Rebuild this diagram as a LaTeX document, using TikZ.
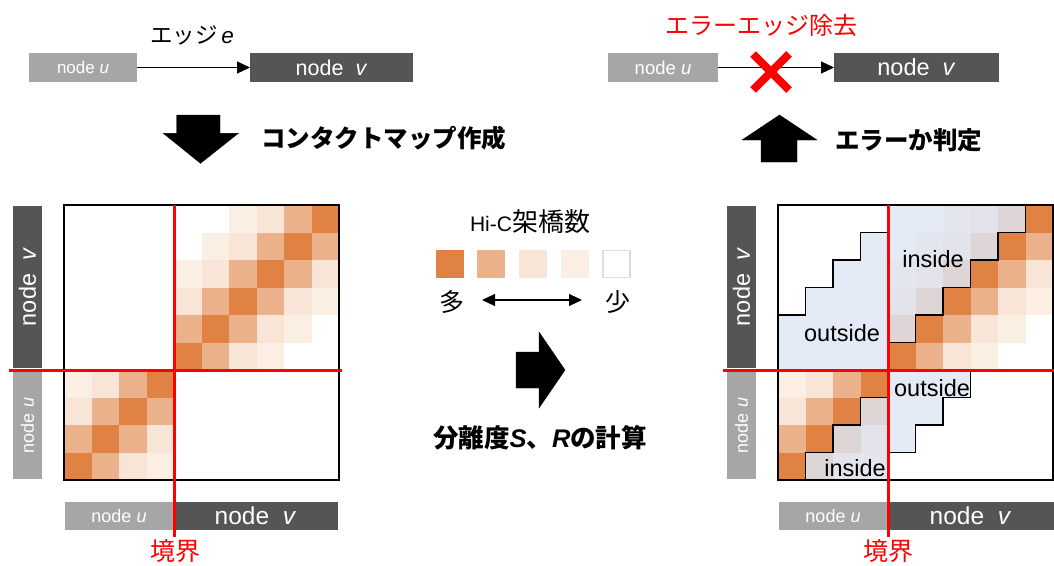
\documentclass[tikz,border=0pt]{standalone}
\usepackage{fontspec}
\setmainfont{Liberation Sans}
\newfontfamily\jp{Noto Sans CJK JP}
\usetikzlibrary{arrows.meta}
\newcommand\fsz[1]{\fontsize{#1}{#1}\selectfont}
\definecolor{cm0}{HTML}{E08244}
\definecolor{cm1}{HTML}{EBB18B}
\definecolor{cm2}{HTML}{F8E5D8}
\definecolor{cm3}{HTML}{FBEEE2}
\definecolor{bardk}{HTML}{555555}
\definecolor{barlt}{HTML}{A6A6A6}
\definecolor{ovl}{HTML}{DAE3F3}
\definecolor{legbd}{HTML}{DDDDDD}
\begin{document}
\begin{tikzpicture}[x=1pt,y=-1pt,
  darkbar/.style={fill=bardk,text=white,inner sep=0pt,outer sep=0pt},
  lightbar/.style={fill=barlt,text=white,inner sep=0pt,outer sep=0pt},
  arr/.style={-{Triangle[length=13pt,width=12pt]},line width=1.1pt},
  darr/.style={{Triangle[length=13pt,width=12pt]}-{Triangle[length=13pt,width=12pt]},line width=1.1pt},
  redline/.style={red,line width=3pt},
  stair/.style={black,line width=1.5pt},
  region/.style={fill=ovl,fill opacity=0.72},
  fat/.style={fill=black},
  bold/.style={font=\jp\bfseries\fsz{24.5}},
  lbl/.style={font=\fsz{23.5}},
  legsq/.style={minimum width=28pt,minimum height=28pt,inner sep=0pt}]
\useasboundingbox (0,0) rectangle (1054,565);

% ---------- top left ----------
\node[lightbar,minimum width=108pt,minimum height=29pt,font=\fsz{17}] (tlu) at (83,67.5) {node \textit{u}};
\node[darkbar,minimum width=163pt,minimum height=29pt,font=\fsz{21.5}] (tlv) at (331.5,67.5) {node~~\textit{v}};
\draw[arr] (tlu) -- (tlv);
\node[font=\fsz{22.5}] (edge) at (192,35) {{\jp\fsz{22.5}エッジ}\,\textit{e}};

\draw[fat] (176.7,115) -- (220,115) -- (220,133.3) -- (238.3,133.3) -- (200.5,163.3) -- (163.3,133.3) -- (176.7,133.3) -- cycle;
\node[bold,anchor=west,inner sep=0pt] (mk) at (261,138) {コンタクトマップ作成};

% ---------- top right ----------
\node[lightbar,minimum width=110pt,minimum height=29pt,font=\fsz{18.5}] (tru) at (663,67.5) {node \textit{u}};
\node[darkbar,minimum width=165pt,minimum height=29pt,font=\fsz{23.5}] (trv) at (916.5,67.5) {node~~\textit{v}};
\draw[arr] (tru) -- (trv);
\coordinate (xc) at (771,72);
\draw[red,line width=8pt] ([shift={(-18,-18)}]xc) -- ([shift={(18,18)}]xc);
\draw[red,line width=8pt] ([shift={(18,-18)}]xc) -- ([shift={(-18,18)}]xc);
\node[red,font=\jp\fsz{24}] (rm) at (761,25) {エラーエッジ除去};

\draw[fat] (779.5,115) -- (817,140) -- (797,140) -- (797,162) -- (761,162) -- (761,140) -- (742,140) -- cycle;
\node[bold,anchor=west,inner sep=0pt] (judge) at (835,140) {エラーか判定};

% ---------- matrices: cells ----------
\foreach \ox in {64,778}{
  \foreach \i in {0,...,9}{
    \foreach \j in {0,...,9}{
      \pgfmathtruncatemacro\dd{abs(\i+\j-9)}
      \pgfmathtruncatemacro\inblk{(\i<6)*(\j>3)+(\i>5)*(\j<4)}
      \ifnum\inblk=1 \ifnum\dd<4
        \fill[cm\dd] (\ox+27.5*\j,205+27.5*\i) rectangle ++(27.7,27.7);
      \fi\fi
    }
  }
}

% ---------- right matrix overlays ----------
% upper-left outside
\fill[region] (778,370) -- (778,315) -- (805.5,315) -- (805.5,287.5) -- (833,287.5) -- (833,260) -- (860.5,260) -- (860.5,232.5) -- (888,232.5) -- (888,370) -- cycle;
\draw[stair] (778,315) -- (805.5,315) -- (805.5,287.5) -- (833,287.5) -- (833,260) -- (860.5,260) -- (860.5,232.5) -- (888,232.5);
% upper-right inside
\fill[region] (888,205) -- (1025.5,205) -- (1025.5,232.5) -- (998,232.5) -- (998,260) -- (970.5,260) -- (970.5,287.5) -- (943,287.5) -- (943,315) -- (915.5,315) -- (915.5,342.5) -- (888,342.5) -- cycle;
\draw[stair] (1025.5,205) -- (1025.5,232.5) -- (998,232.5) -- (998,260) -- (970.5,260) -- (970.5,287.5) -- (943,287.5) -- (943,315) -- (915.5,315) -- (915.5,342.5) -- (888,342.5);
% lower-right outside
\fill[region] (888,370) -- (970.5,370) -- (970.5,397.5) -- (943,397.5) -- (943,425) -- (915.5,425) -- (915.5,452.5) -- (888,452.5) -- cycle;
\draw[stair] (970.5,370) -- (970.5,397.5) -- (943,397.5) -- (943,425) -- (915.5,425) -- (915.5,452.5) -- (888,452.5);
% lower-left inside
\fill[region] (805.5,480) -- (805.5,452.5) -- (833,452.5) -- (833,425) -- (860.5,425) -- (860.5,397.5) -- (888,397.5) -- (888,480) -- cycle;
\draw[stair] (805.5,480) -- (805.5,452.5) -- (833,452.5) -- (833,425) -- (860.5,425) -- (860.5,397.5) -- (888,397.5);

% ---------- frames ----------
\draw[line width=1.5pt] (64,205) rectangle (339,480);
\draw[line width=1.5pt] (778,205) rectangle (1053,480);

% ---------- region labels ----------
\node[lbl] (o1) at (842,333) {outside};
\node[lbl] (i1) at (933,259) {inside};
\node[lbl] (o2) at (932,388) {outside};
\node[lbl] (i2) at (855,468) {inside};

% ---------- bars left ----------
\node[darkbar,minimum width=162pt,minimum height=29pt,rotate=90,font=\fsz{23.5}] (lvv) at (27.5,287) {node~~\textit{v}};
\node[lightbar,minimum width=107pt,minimum height=29pt,rotate=90,font=\fsz{18}] (lvu) at (27.5,425.5) {node \textit{u}};
\node[lightbar,minimum width=108pt,minimum height=28pt,font=\fsz{18}] (lbu) at (119,516) {node \textit{u}};
\node[darkbar,minimum width=165pt,minimum height=28pt,font=\fsz{24.5}] (lbv) at (255.5,516) {node~~\textit{v}};
% ---------- bars right ----------
\node[darkbar,minimum width=162pt,minimum height=29pt,rotate=90,font=\fsz{23.5}] (rvv) at (741.5,287) {node~~\textit{v}};
\node[lightbar,minimum width=107pt,minimum height=29pt,rotate=90,font=\fsz{18}] (rvu) at (741.5,425.5) {node \textit{u}};
\node[lightbar,minimum width=108pt,minimum height=28pt,font=\fsz{18}] (rbu) at (833,516) {node \textit{u}};
\node[darkbar,minimum width=167pt,minimum height=28pt,font=\fsz{24.5}] (rbv) at (970.5,516) {node~~\textit{v}};

% ---------- red boundary lines ----------
\draw[redline] (174,205) -- (174,537);
\draw[redline] (9,370) -- (342,370);
\draw[redline] (888.5,205) -- (888.5,537);
\draw[redline] (723,370) -- (1054,370);
\node[red,font=\jp\fsz{25}] (bl) at (175,551) {境界};
\node[red,font=\jp\fsz{25}] (br) at (888.5,551) {境界};

% ---------- legend ----------
\node[font=\fsz{21}] (leg) at (530,222) {Hi-C{\jp\fsz{26}架橋数}};
\node[legsq,fill=cm0] (s0) at (450,264) {};
\node[legsq,fill=cm1] (s1) at (491,264) {};
\node[legsq,fill=cm2] (s2) at (533,264) {};
\node[legsq,fill=cm3] (s3) at (575,264) {};
\node[legsq,fill=white,draw=legbd,line width=1.5pt,minimum width=27pt,minimum height=27pt] (s4) at (616.5,264) {};
\node[font=\jp\fsz{25}] (many) at (452,302) {多};
\node[font=\jp\fsz{25}] (few) at (617.5,302) {少};
\coordinate (la) at (482,300);
\coordinate (lb) at (582,300);
\draw[darr] (la) -- (lb);

\draw[fat] (516,352) -- (539,352) -- (539,332) -- (565,370) -- (539,408) -- (539,388) -- (516,388) -- cycle;
\node[font=\fsz{25.5}] (calc) at (540,438) {{\jp\bfseries 分離度}{\bfseries\itshape S}{\jp\bfseries 、}{\bfseries\itshape R}{\jp\bfseries の計算}};
\end{tikzpicture}
\end{document}
